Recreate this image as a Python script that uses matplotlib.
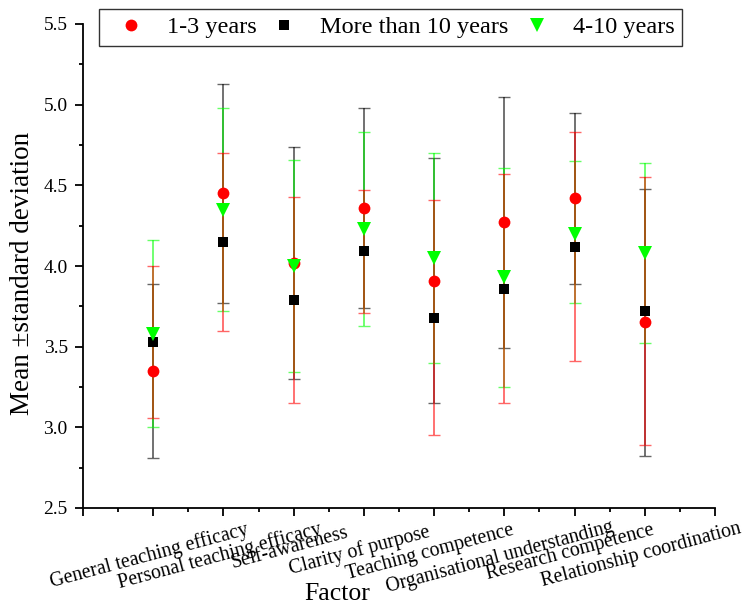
import matplotlib
matplotlib.use('Agg')
import matplotlib.pyplot as plt
from matplotlib.ticker import MultipleLocator, FormatStrFormatter
from matplotlib.transforms import ScaledTranslation
import numpy as np

plt.rcParams['font.family'] = ['Liberation Serif', 'DejaVu Serif']

cats = ['General teaching efficacy', 'Personal teaching efficacy', 'Self-awareness',
        'Clarity of purpose', 'Teaching competence', 'Organisational understanding',
        'Research competence', 'Relationship coordination']

# 1-3 years
red_mean = [3.35, 4.45, 4.02, 4.36, 3.91, 4.27, 4.42, 3.65]
red_up = [4.00, 4.70, 4.43, 4.47, 4.41, 4.57, 4.83, 4.55]
red_low = [3.06, 3.60, 3.15, 3.71, 2.95, 3.15, 3.41, 2.89]

# More than 10 years
blk_mean = [3.53, 4.15, 3.79, 4.09, 3.68, 3.86, 4.12, 3.72]
blk_up = [3.89, 5.13, 4.74, 4.98, 4.67, 5.05, 4.95, 4.48]
blk_low = [2.81, 3.77, 3.30, 3.74, 3.15, 3.49, 3.89, 2.82]

# 4-10 years
grn_mean = [3.58, 4.35, 4.00, 4.23, 4.05, 3.93, 4.20, 4.08]
grn_up = [4.16, 4.98, 4.66, 4.83, 4.70, 4.61, 4.65, 4.64]
grn_low = [3.00, 3.72, 3.34, 3.63, 3.40, 3.25, 3.77, 3.52]

# name, mean, low, high, colour, marker, marker size, bar zorder
series = [
    ('1-3 years', red_mean, red_low, red_up, '#ff0000', 'o', 8.5, 2.3),
    ('More than 10 years', blk_mean, blk_low, blk_up, '#000000', 's', 7.2, 2.1),
    ('4-10 years', grn_mean, grn_low, grn_up, '#00ff00', 'v', 9.5, 2.2),
]

fig = plt.figure(figsize=(7.45, 6.08), dpi=100)
ax = fig.add_axes([83 / 745, 1 - 508 / 608, 632 / 745, 484 / 608])

x = np.arange(1, len(cats) + 1)
handles = []
for name, m, lo, up, col, mk, ms, zb in series:
    m = np.array(m)
    yerr = [m - np.array(lo), np.array(up) - m]
    ax.errorbar(x, m, yerr=yerr, fmt='none', ecolor=col, alpha=0.6,
                elinewidth=1.3, capsize=4.5, capthick=1.0, zorder=zb)
    h, = ax.plot(x, m, linestyle='none', marker=mk, markersize=ms,
                 color=col, markeredgewidth=0, zorder=3, label=name)
    handles.append(h)

ax.set_xlim(0, 9)
ax.set_ylim(2.5, 5.5)
ax.set_xticks(range(10))
ax.set_xticklabels([])
ax.xaxis.set_minor_locator(MultipleLocator(0.5))
ax.yaxis.set_major_locator(MultipleLocator(0.5))
ax.yaxis.set_minor_locator(MultipleLocator(0.25))
ax.yaxis.set_major_formatter(FormatStrFormatter('%.1f'))

ax.spines['top'].set_visible(False)
ax.spines['right'].set_visible(False)
ax.spines['left'].set_linewidth(1.3)
ax.spines['bottom'].set_linewidth(1.3)
ax.tick_params(which='major', direction='out', length=6, width=1.3, pad=2)
ax.tick_params(axis='y', which='major', pad=5, labelsize=14)
ax.tick_params(which='minor', direction='out', length=3.2, width=1.3)

# category labels, rotated and nudged a little left of their ticks
texts = []
for xi, c in zip(x, cats):
    t = ax.text(xi, 0, c, rotation=15, ha='center', va='top',
                fontsize=14.3, clip_on=False)
    texts.append(t)
fig.canvas.draw()
rend = fig.canvas.get_renderer()
heights = [t.get_window_extent(rend).height for t in texts]
hmax = max(heights)
for t, hh in zip(texts, heights):
    dy = 10 + 0.19 * (hmax - hh)
    t.set_transform(ax.get_xaxis_transform()
                    + ScaledTranslation(-4 / 100, -dy / 100, fig.dpi_scale_trans))

ax.set_xlabel('Factor', fontsize=18.5)
ax.xaxis.set_label_coords(0.402, -0.155)
ax.set_ylabel('Mean \u00b1standard deviation', fontsize=19.5)
ax.yaxis.set_label_coords(-0.076, 0.485)

leg = fig.legend(handles=handles, loc='upper left', bbox_to_anchor=(99 / 745, 1 - 9 / 608),
                 ncol=3, fontsize=17.5, frameon=True, fancybox=False, shadow=False,
                 borderaxespad=0, borderpad=0.3, handlelength=2.0, handletextpad=0.48,
                 columnspacing=0.15)
leg.get_frame().set_edgecolor('black')
leg.get_frame().set_linewidth(1.0)

fig.savefig('out.png', dpi=100)
